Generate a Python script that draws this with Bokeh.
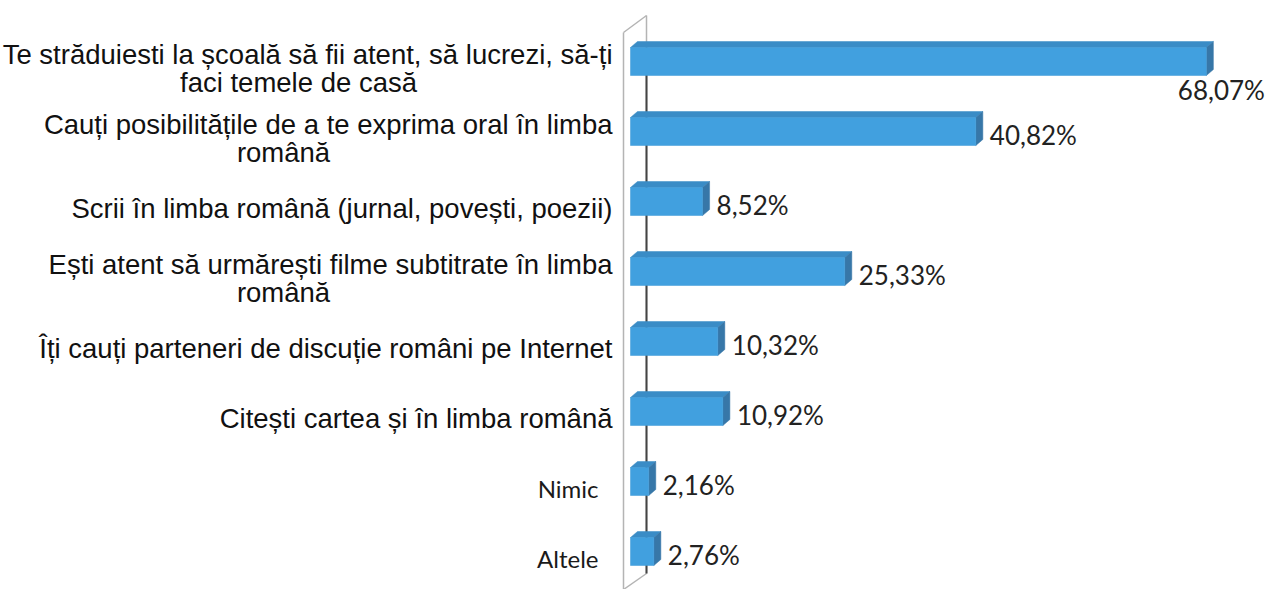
from bokeh.plotting import figure
from bokeh.models import Range1d, ColumnDataSource
from bokeh.core.properties import value
from bokeh.embed import file_html
from bokeh.resources import INLINE

# ---- data ----
categories = [
    ["Te străduiesti la școală să fii atent, să lucrezi, să-ți", "faci temele de casă"],
    ["Cauți posibilitățile de a te exprima oral în limba", "română"],
    ["Scrii în limba română (jurnal, povești, poezii)"],
    ["Ești atent să urmărești filme subtitrate în limba", "română"],
    ["Îți cauți parteneri de discuție români pe Internet"],
    ["Citești cartea și în limba română"],
    ["Nimic"],
    ["Altele"],
]
values = [68.07, 40.82, 8.52, 25.33, 10.32, 10.92, 2.16, 2.76]

# ---- geometry helpers (pixel -> data) ----
PX_PER_PCT = 8.46
ZERO_PX = 630.0
ROW_PX = 70.0
FIRST_ROW_PX = 61.0
W, H = 1268, 589

def px_x(px):
    return (px - ZERO_PX) / PX_PER_PCT

def px_y(py):
    return (py - FIRST_ROW_PX) / ROW_PX

def dxp(d):
    return d / PX_PER_PCT

def dyp(d):
    return d / ROW_PX

p = figure(width=W, height=H, output_backend="svg", toolbar_location=None,
           x_range=Range1d(px_x(0), px_x(W)),
           y_range=Range1d(px_y(H), px_y(0)),
           x_axis_location=None, y_axis_location=None, min_border=0)
p.grid.visible = False
p.outline_line_color = None
p.background_fill_color = "white"

# ---- 3D walls ----
wall_col = "#b4b4b4"
p.line([px_x(623), px_x(623)], [px_y(32), px_y(592)], line_color=wall_col, line_width=1.5)
p.line([px_x(646), px_x(646)], [px_y(15), px_y(573)], line_color=wall_col, line_width=1.5)
p.line([px_x(623), px_x(646)], [px_y(32), px_y(15)], line_color=wall_col, line_width=1.5)
p.line([px_x(646), px_x(623)], [px_y(573), px_y(589)], line_color=wall_col, line_width=1.5)
p.line([px_x(646), px_x(646)], [px_y(47), px_y(573)], line_color="#444444", line_width=2)

# ---- bars ----
idx = list(range(len(values)))
bh = dyp(28)
ox, oy = dxp(7), dyp(6)
front = ColumnDataSource(dict(left=[0.0] * len(values), right=values,
                              top=[i - bh / 2 for i in idx], bottom=[i + bh / 2 for i in idx]))

top_xs, top_ys, side_xs, side_ys = [], [], [], []
for i, v in zip(idx, values):
    yt, yb = i - bh / 2, i + bh / 2
    top_xs.append([0, v, v + ox, ox])
    top_ys.append([yt, yt, yt - oy, yt - oy])
    side_xs.append([v, v + ox, v + ox, v])
    side_ys.append([yt, yt - oy, yb - oy, yb])

p.patches(top_xs, top_ys, fill_color="#3a8cc6", line_color="#3a8cc6", line_width=0.5)
p.patches(side_xs, side_ys, fill_color="#3777a8", line_color="#3777a8", line_width=0.5)
p.quad(left="left", right="right", top="top", bottom="bottom", source=front,
       fill_color="#41a0df", line_color="#3d98d6", line_width=0.5)

# ---- category labels ----
arial = value("Liberation Sans")
lato = value("Lato")
CAT_FS = "27.5px"
for i, lines in enumerate(categories):
    if len(lines) == 1:
        if lines[0] in ("Nimic", "Altele"):
            p.text([px_x(598)], [i + dyp(7)], text=[lines[0]], text_font=lato,
                   text_font_size="24px", text_align="right", text_baseline="middle",
                   text_color="#1a1a1a")
        else:
            p.text([px_x(612)], [i + dyp(7)], text=[lines[0]], text_font=arial,
                   text_font_size=CAT_FS, text_align="right", text_baseline="middle",
                   text_color="#111111")
    else:
        p.text([px_x(612)], [i - dyp(7)], text=[lines[0]], text_font=arial,
               text_font_size=CAT_FS, text_align="right", text_baseline="middle",
               text_color="#111111")
        cx = 298 if i == 0 else 283
        p.text([px_x(cx)], [i + dyp(21)], text=[lines[1]], text_font=arial,
               text_font_size=CAT_FS, text_align="center", text_baseline="middle",
               text_color="#111111")

# ---- value labels ----
vmax = max(values)
for i, v in zip(idx, values):
    lab = f"{v:.2f}".replace(".", ",") + "%"
    if v == vmax:
        p.text([v + dxp(15)], [i + dyp(28)], text=[lab], text_font=lato,
               text_font_size="26px", text_align="center", text_baseline="middle",
               text_color="#222222")
    else:
        p.text([v + dxp(14)], [i + dyp(3)], text=[lab], text_font=lato,
               text_font_size="26px", text_align="left", text_baseline="middle",
               text_color="#222222")

open("out.html", "w").write(file_html(p, INLINE))
